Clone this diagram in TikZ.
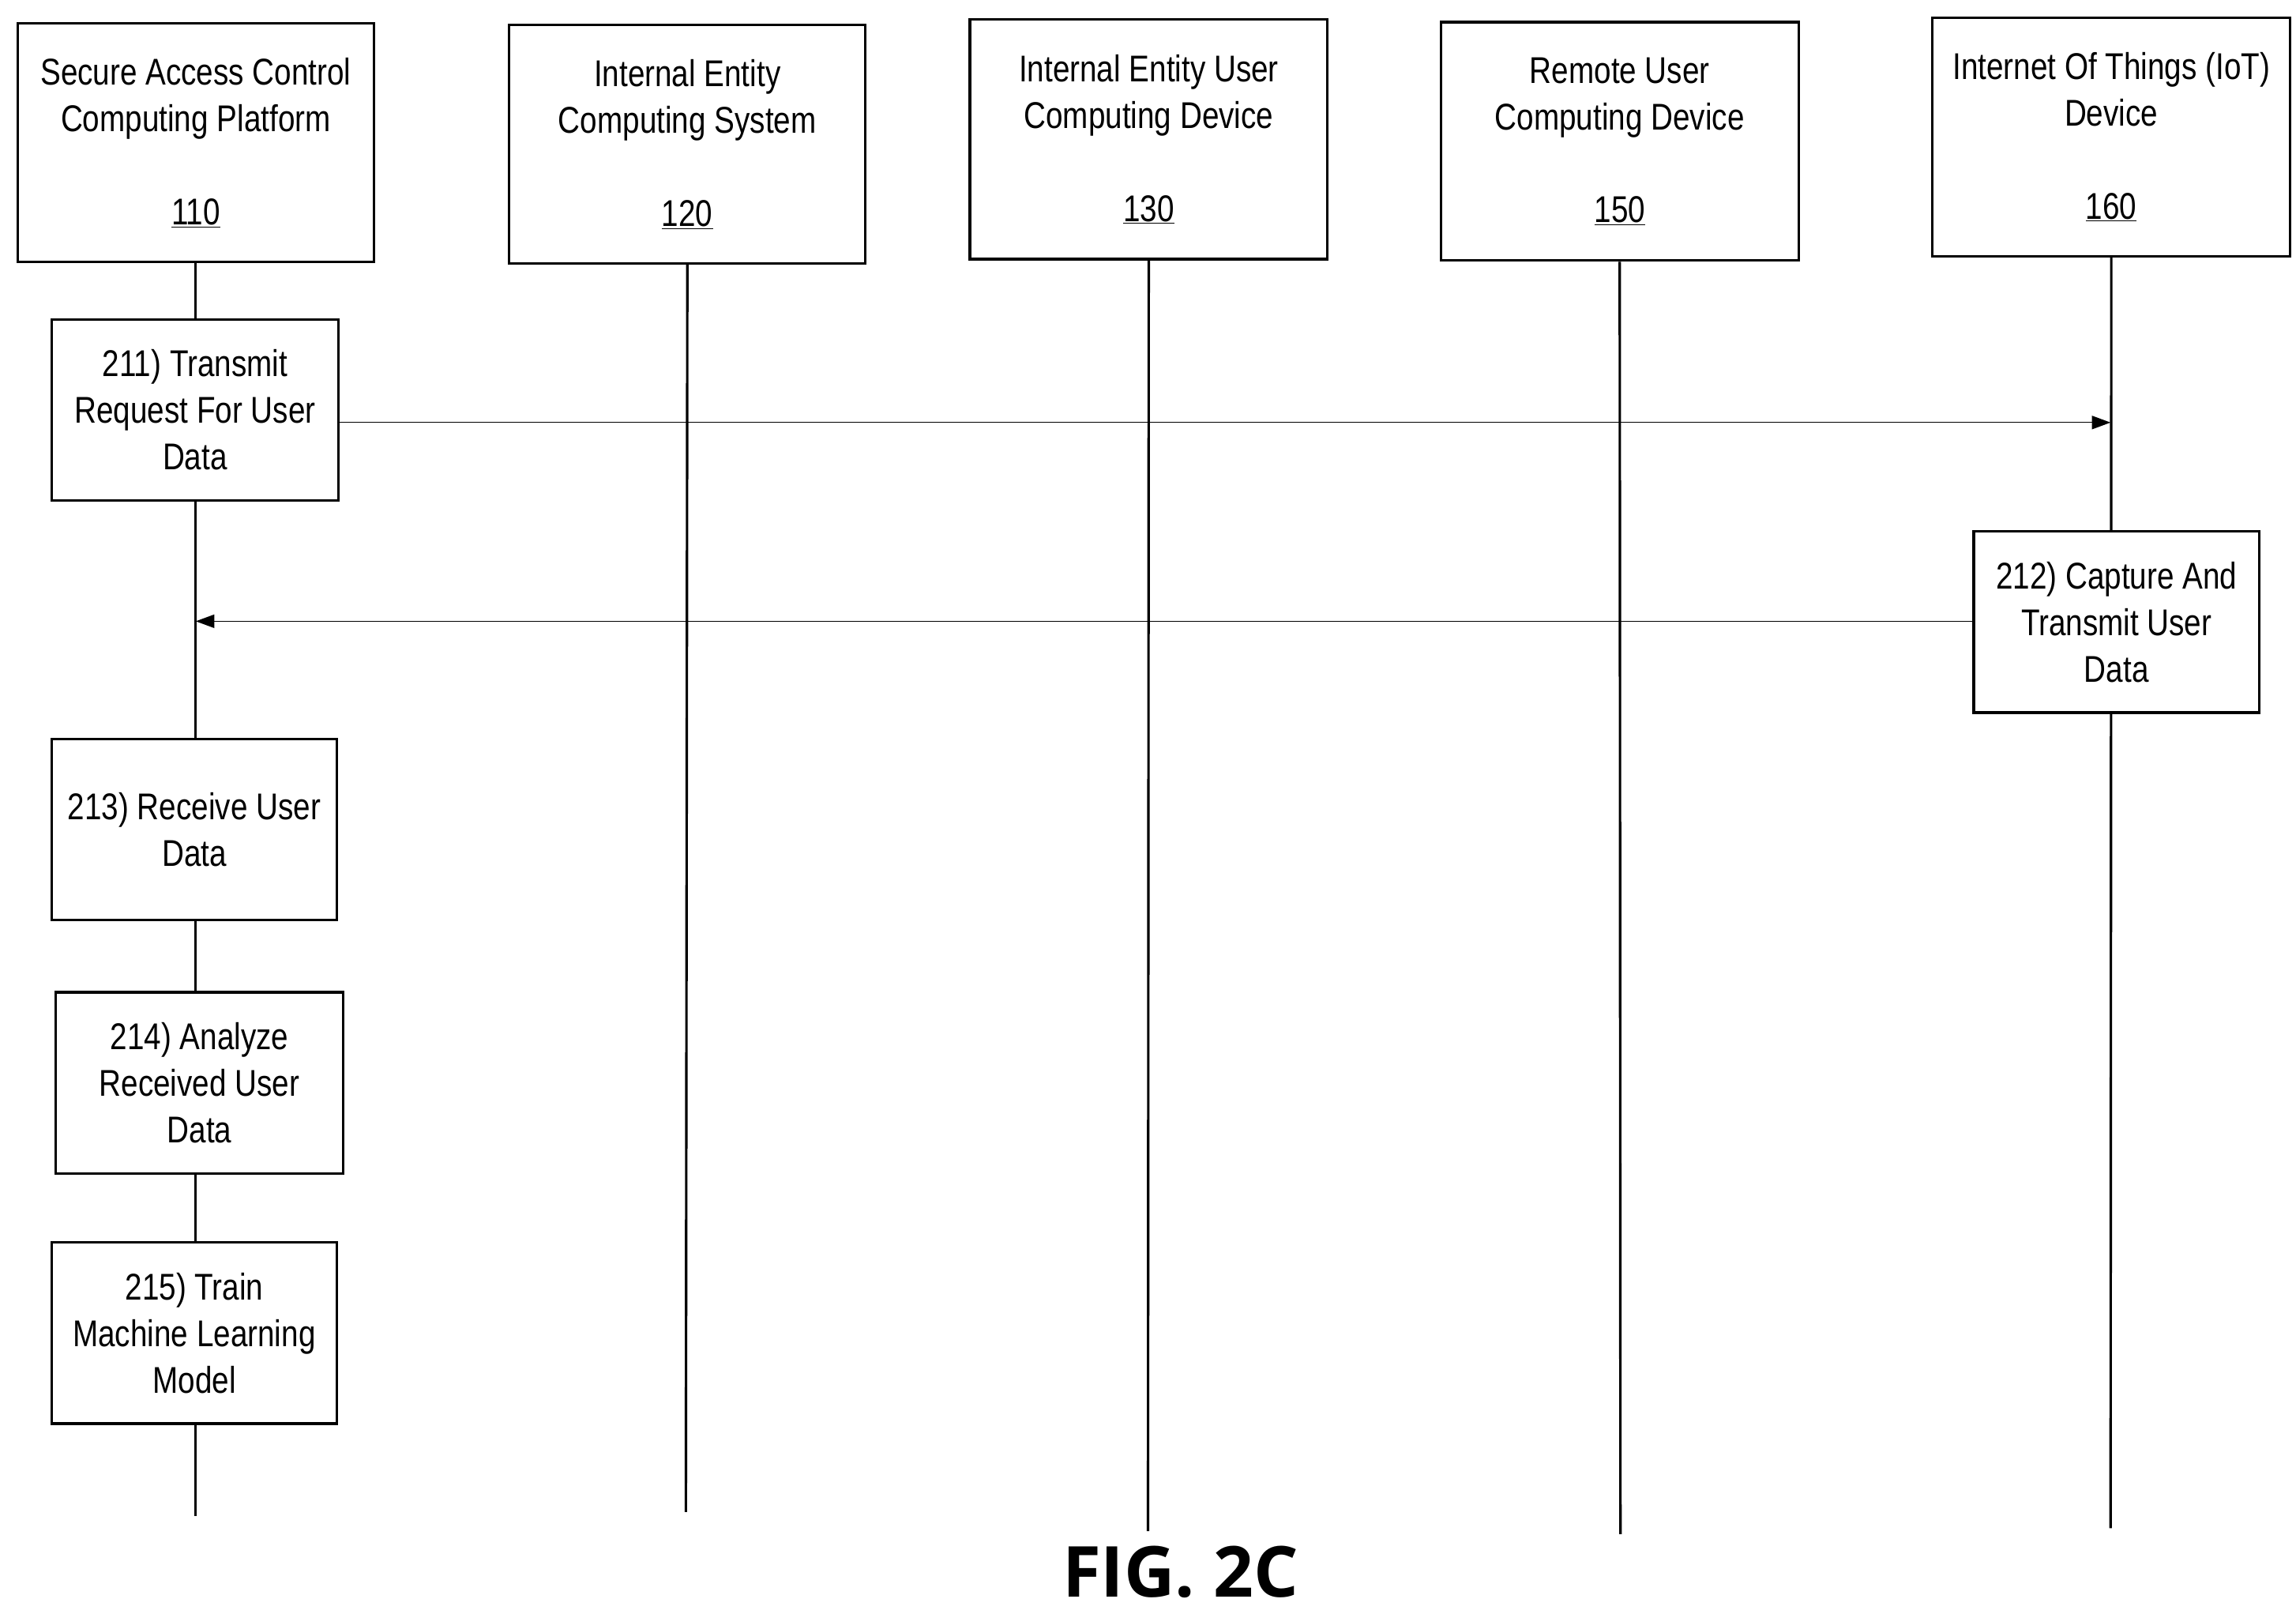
\documentclass[tikz,border=0pt]{standalone}
\usepackage{fontspec}
\setmainfont{Liberation Sans}[FakeStretch=0.82]
\newfontfamily\figfont{Open Sans}
\usetikzlibrary{arrows.meta}
\begin{document}
\begin{tikzpicture}[x=0.05cm,y=-0.05cm,
  box/.style={draw,fill=white,line width=2.4pt,align=center,inner sep=0pt,font=\fontsize{36}{45}\selectfont},
  life/.style={line width=2.4pt},
  msg/.style={line width=1pt,-{Triangle[length=18pt,width=13pt]}}]
\useasboundingbox (0,0) rectangle (1560,1096);
\newcommand\bx[6]{\node[box,minimum width={(#3-#2)*0.05cm},minimum height={(#5-#4)*0.05cm}] (#1) at ({(#2+#3)/2},{(#4+#5)/2}) {#6};}
\bx{h110}{12}{254}{16}{178}{Secure Access Control\\Computing Platform\\ \\\underline{110}}
\bx{h120}{346}{588}{17}{179}{Internal Entity\\Computing System\\ \\\underline{120}}
\bx{h130}{659}{902}{13}{176}{Internal Entity User\\Computing Device\\ \\\underline{130}}
\bx{h150}{979}{1222}{15}{177}{Remote User\\Computing Device\\ \\\underline{150}}
\bx{h160}{1313}{1556}{12}{174}{Internet Of Things (IoT)\\Device\\ \\\underline{160}}
\coordinate (e110) at (133,1030);
\coordinate (e120) at (466,1027);
\coordinate (e130) at (780,1040);
\coordinate (e150) at (1101,1042);
\coordinate (e160) at (1434,1038);
\foreach \n in {110,120,130,150,160} \draw[life] (h\n.south) -- (e\n);
\bx{s211}{35}{230}{217}{340}{211) Transmit\\Request For User\\Data}
\bx{s212}{1341}{1535}{361}{484}{212) Capture And\\Transmit User\\Data}
\bx{s213}{35}{229}{502}{625}{213) Receive User\\Data}
\bx{s214}{38}{233}{674}{797}{214) Analyze\\Received User\\Data}
\bx{s215}{35}{229}{844}{967}{215) Train\\Machine Learning\\Model}
\coordinate (a1) at (1434,287);
\coordinate (a2) at (133,422);
\draw[msg] (s211.east |- a1) -- (a1);
\draw[msg] (s212.west |- a2) -- (a2);
\node[font=\figfont\bfseries\fontsize{68}{76}\selectfont] (fig) at (802,1068) {FIG. 2C};
\end{tikzpicture}
\end{document}
